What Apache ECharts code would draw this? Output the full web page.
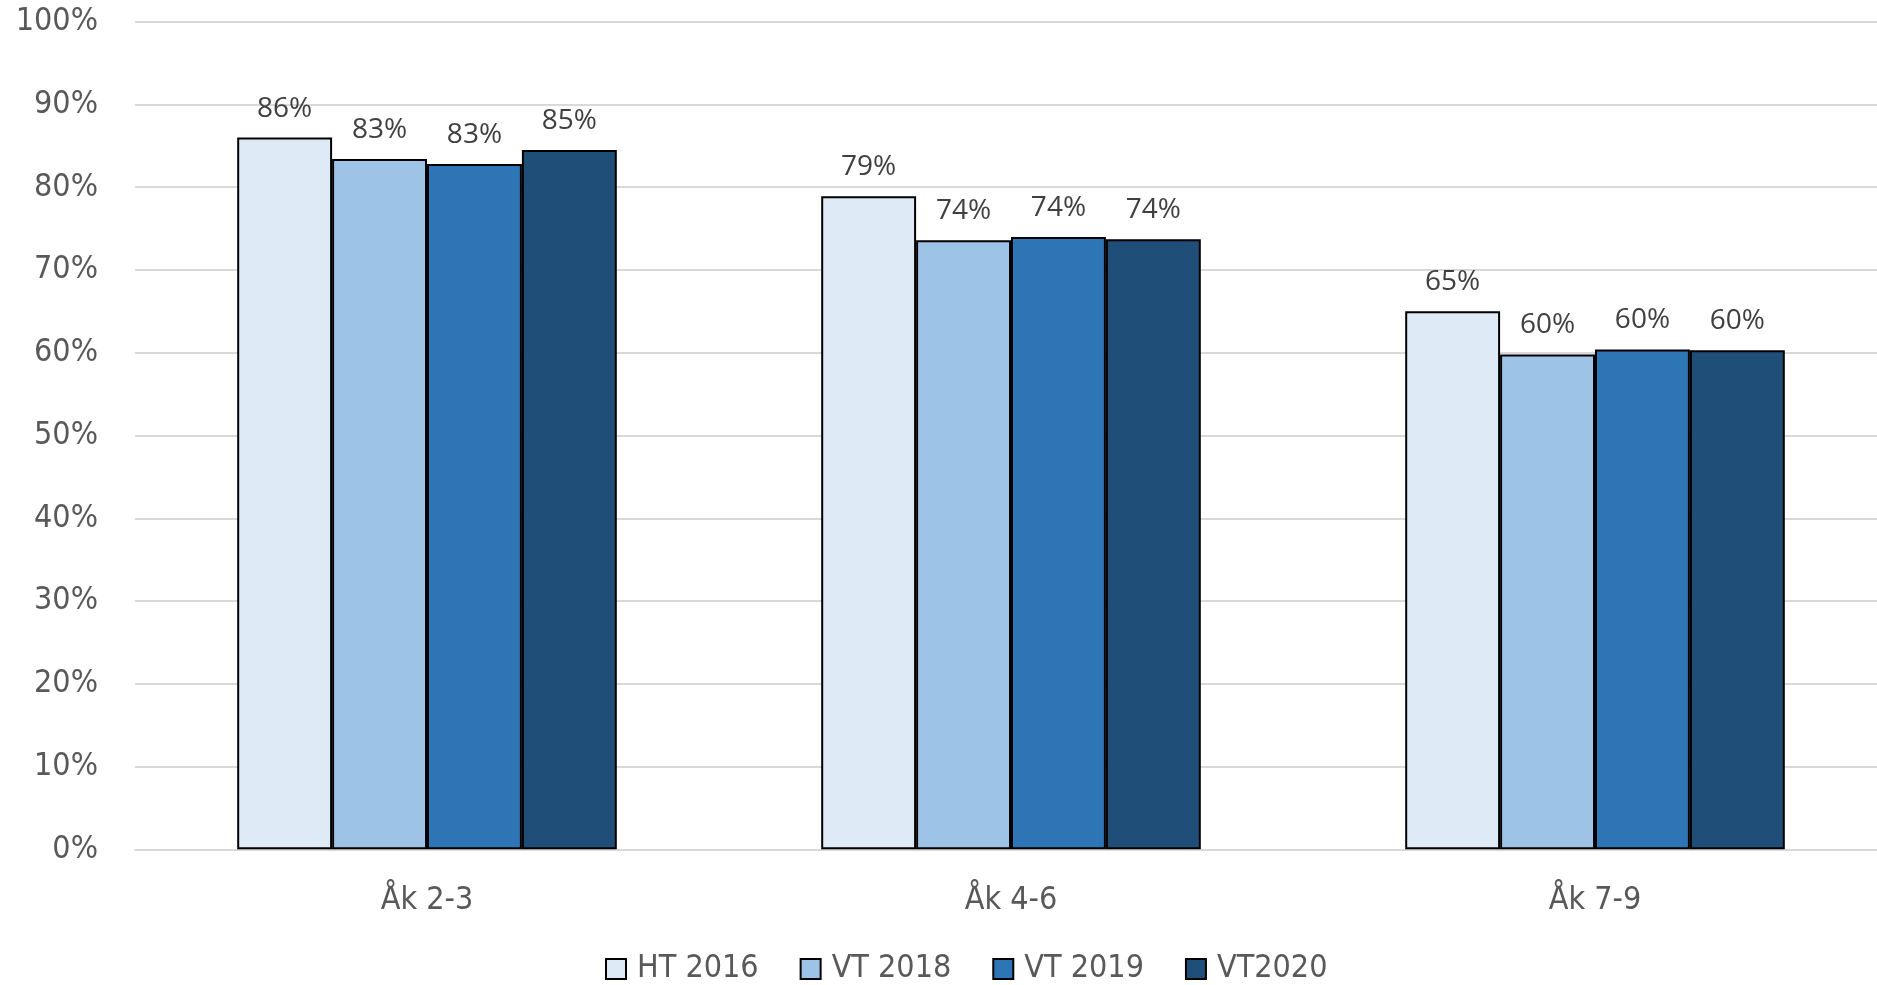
<!DOCTYPE html>
<html>
<head>
<meta charset="utf-8">
<script src="https://cdn.jsdelivr.net/npm/echarts@6/dist/echarts.min.js"></script>
<style>
  html, body { margin: 0; padding: 0; background: #fff; }
  #chart { width: 1877px; height: 985px; }
</style>
</head>
<body>
<div id="chart"></div>
<script>
// categories (school years) and series names
const categories = ['Åk 2-3', 'Åk 4-6', 'Åk 7-9']
const seriesNames = ['HT 2016', 'VT 2018', 'VT 2019', 'VT2020']

// values in percent
const ht2016 = [86.0, 78.9, 65.0]
const vt2018 = [83.4, 73.6, 59.8]
const vt2019 = [82.8, 74.0, 60.4]
const vt2020 = [84.5, 73.7, 60.3]

const yTicks = [0, 10, 20, 30, 40, 50, 60, 70, 80, 90, 100]

const colors = ['#DEEBF7', '#9DC3E6', '#2E75B6', '#1F4E79']
const axisFont = "'Liberation Sans Narrow', 'DejaVu Sans Condensed', sans-serif"

const values = [ht2016, vt2018, vt2019, vt2020]

const myChart = echarts.init(document.getElementById('chart'))
myChart.setOption({
  animation: false,
  grid: { left: 135, right: -10, top: 21.7, bottom: 135.7, outerBoundsMode: 'none' },
  legend: {
    top: 948,
    left: 600,
    icon: 'rect',
    itemWidth: 20,
    itemHeight: 20,
    itemGap: 41,
    textStyle: { fontFamily: axisFont, fontSize: 32, color: '#595959', padding: [0, 0, 0, 6] },
    data: seriesNames
  },
  xAxis: {
    type: 'category',
    data: categories,
    axisTick: { show: false },
    axisLine: { lineStyle: { color: '#d9d9d9', width: 2 } },
    axisLabel: { fontFamily: axisFont, fontSize: 32, color: '#595959', margin: 35 }
  },
  yAxis: {
    type: 'value',
    min: yTicks[0],
    max: yTicks[yTicks.length - 1],
    interval: 10,
    axisLine: { show: false },
    axisTick: { show: false },
    splitLine: { lineStyle: { color: '#d9d9d9', width: 2 } },
    axisLabel: { fontFamily: axisFont, fontSize: 32, color: '#595959', margin: 37, formatter: '{value}%' }
  },
  series: seriesNames.map((name, i) => ({
    name,
    type: 'bar',
    data: values[i],
    barGap: '0%',
    barCategoryGap: '35%',
    itemStyle: { color: colors[i], borderColor: '#000', borderWidth: 2 },
    label: {
      show: true,
      position: 'top',
      distance: 15,
      fontFamily: "'Open Sans', sans-serif",
      fontSize: 28,
      color: '#404040',
      formatter: p => Math.round(p.value) + '%'
    }
  }))
})
</script>
</body>
</html>
